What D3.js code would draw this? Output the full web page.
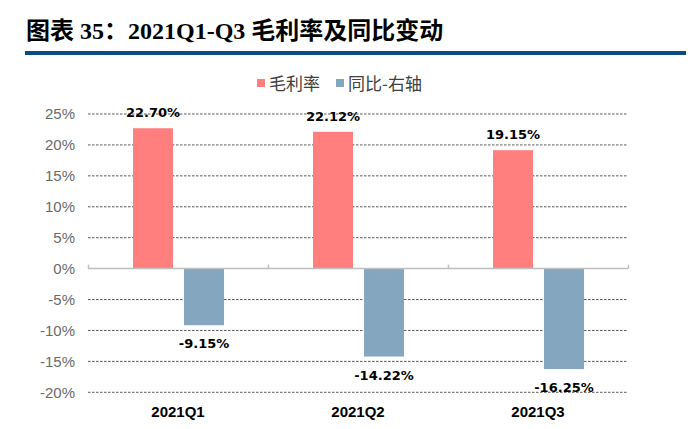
<!DOCTYPE html>
<html><head><meta charset="utf-8">
<script src="https://cdn.jsdelivr.net/npm/d3@7"></script>
<style>body{margin:0;background:#fff}</style>
</head><body>
<svg id="c" width="699" height="429"></svg>
<script>
const categories = ["2021Q1", "2021Q2", "2021Q3"];
const seriesNames = ["毛利率", "同比-右轴"];
const grossMargin = [22.70, 22.12, 19.15];
const yoyChange = [-9.15, -14.22, -16.25];
const yTicks = [-20, -15, -10, -5, 0, 5, 10, 15, 20, 25];
const colors = ["#FF7F7F", "#84A6BF"];

const svg = d3.select("#c");
const L = 88, R = 628, T = 114, B = 392.3;

// Title
svg.append("text").attr("x", 26).attr("y", 39)
  .attr("font-family", "'Liberation Serif','Noto Sans CJK SC'")
  .attr("font-weight", "bold").attr("font-size", 24).attr("fill", "#000")
  .text("图表 35：2021Q1-Q3 毛利率及同比变动");
svg.append("rect").attr("x", 25).attr("y", 51).attr("width", 661).attr("height", 4).attr("fill", "#0B4D80");

const y = d3.scaleLinear().domain([-20, 25]).range([B, T]);
const x = d3.scaleBand().domain(categories).range([L, R]);
const x1 = d3.scaleBand().domain(seriesNames).range([45, 136]).paddingInner(11/51);

// gridlines
svg.append("g").selectAll("line").data(yTicks.filter(d => d !== 0)).join("line")
  .attr("x1", L).attr("x2", R).attr("y1", d => y(d)).attr("y2", d => y(d))
  .attr("stroke", "#303030").attr("stroke-width", 0.8).attr("stroke-dasharray", "2.5,1.5");

// y axis labels
const yAxis = d3.axisLeft(y).tickValues(yTicks).tickFormat(d => d + "%").tickSize(0).tickPadding(13);
const ga = svg.append("g").attr("transform", `translate(${L},0)`).call(yAxis);
ga.select(".domain").remove();
ga.selectAll("text").attr("font-family", "Arial, 'Liberation Sans', sans-serif")
  .attr("font-size", 15).attr("fill", "#6a6a6a");

// bars
const data = [];
categories.forEach((c, i) => {
  data.push({c, s: seriesNames[0], v: grossMargin[i], col: colors[0]});
  data.push({c, s: seriesNames[1], v: yoyChange[i], col: colors[1]});
});
svg.append("g").selectAll("rect").data(data).join("rect")
  .attr("x", d => x(d.c) + x1(d.s))
  .attr("width", x1.bandwidth())
  .attr("y", d => y(Math.max(0, d.v)))
  .attr("height", d => Math.abs(y(d.v) - y(0)))
  .attr("fill", d => d.col);

// zero axis line with ticks
svg.append("line").attr("x1", L).attr("x2", R).attr("y1", y(0)).attr("y2", y(0))
  .attr("stroke", "#bfbfbf").attr("stroke-width", 1.5);
const bounds = categories.map(c => x(c)).concat([R]);
svg.append("g").selectAll("line").data(bounds).join("line")
  .attr("x1", d => d + 0.5).attr("x2", d => d + 0.5).attr("y1", y(0)).attr("y2", y(0) - 4)
  .attr("stroke", "#bfbfbf").attr("stroke-width", 1.5);

// value labels
svg.append("g").selectAll("text").data(data).join("text")
  .attr("x", d => x(d.c) + x1(d.s) + x1.bandwidth() / 2)
  .attr("y", d => d.v >= 0 ? y(d.v) - 11 : y(d.v) + 23)
  .attr("text-anchor", "middle")
  .attr("font-family", "'DejaVu Sans', sans-serif").attr("font-weight", "bold")
  .attr("font-size", 13).attr("fill", "#000")
  .text(d => d.v.toFixed(2) + "%");

// category labels
svg.append("g").selectAll("text").data(categories).join("text")
  .attr("x", d => x(d) + x.bandwidth() / 2).attr("y", 416.5)
  .attr("text-anchor", "middle")
  .attr("font-family", "Arial, 'Liberation Sans', sans-serif").attr("font-weight", "bold")
  .attr("font-size", 15).attr("fill", "#000")
  .text(d => d);

// legend
const legX = [257, 336];
const lg = svg.append("g");
seriesNames.forEach((s, i) => {
  lg.append("rect").attr("x", legX[i]).attr("y", 79).attr("width", 8).attr("height", 8).attr("fill", colors[i]);
  lg.append("text").attr("x", legX[i] + 12).attr("y", 89.5)
    .attr("font-family", "'Noto Sans CJK SC', sans-serif").attr("font-size", 17).attr("fill", "#404040")
    .text(s);
});
</script>
</body></html>
